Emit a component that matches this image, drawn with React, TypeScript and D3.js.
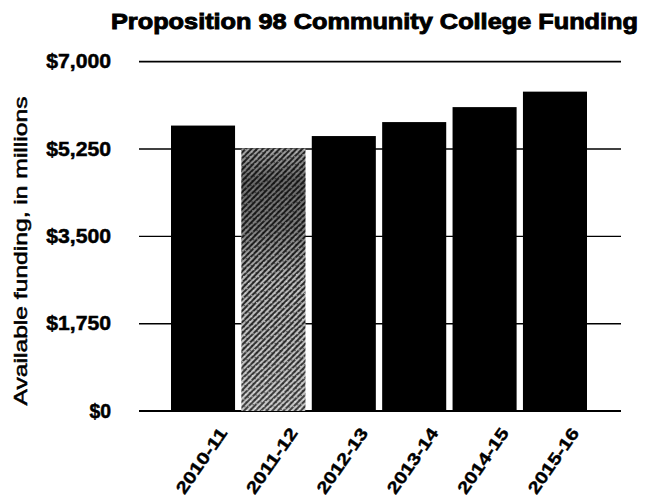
import React from "react";
import * as d3 from "d3";

// Proposition 98 community college funding, in millions of dollars
const years = ["2010-11", "2011-12", "2012-13", "2013-14", "2014-15", "2015-16"];
const funding = [5720, 5260, 5510, 5790, 6090, 6400];
const yTicks = [0, 1750, 3500, 5250, 7000];
const hatchedYear = "2011-12";

const W = 650;
const H = 502;
const FONT = "'Liberation Sans', Arial, Helvetica, sans-serif";

export default function App() {
  const y = d3.scaleLinear().domain([0, 7000]).range([411, 61.7]);
  const x = d3
    .scaleBand<string>()
    .domain(years)
    .range([171, 587])
    .paddingInner(0.09)
    .paddingOuter(0);

  const gridX0 = 139;
  const gridX1 = 621;
  const fmt = (v: number) => "$" + d3.format(",")(v);

  return (
    <svg
      width={W}
      height={H}
      viewBox={`0 0 ${W} ${H}`}
      style={{ position: "absolute", left: 0, top: 0, background: "#fff" }}
    >
      <defs>
        <pattern
          id="hatch"
          width="4"
          height="4"
          patternUnits="userSpaceOnUse"
          patternTransform="rotate(-45)"
        >
          <rect width="4" height="4" fill="#4a4a4a" />
          <line x1="0" y1="1" x2="4" y2="1" stroke="#f4f4f4" strokeWidth="1.4" />
          <line x1="0" y1="3" x2="4" y2="3" stroke="#000" strokeWidth="0.8" />
        </pattern>
        <pattern
          id="speckle"
          width="7"
          height="5"
          patternUnits="userSpaceOnUse"
          patternTransform="rotate(20)"
        >
          <rect x="1" y="1" width="1.5" height="1.2" fill="#fff" opacity="0.7" />
          <rect x="4.5" y="3" width="1.2" height="1.2" fill="#000" opacity="0.8" />
        </pattern>
        <linearGradient id="shade" x1="0" y1="0" x2="0" y2="1">
          <stop offset="0%" stopColor="#000" stopOpacity="0.15" />
          <stop offset="12%" stopColor="#000" stopOpacity="0.45" />
          <stop offset="30%" stopColor="#000" stopOpacity="0.35" />
          <stop offset="50%" stopColor="#000" stopOpacity="0.05" />
          <stop offset="100%" stopColor="#fff" stopOpacity="0.1" />
        </linearGradient>
      </defs>

      {/* title */}
      <text
        x={111}
        y={28.5}
        fontFamily={FONT}
        fontWeight="bold"
        fontSize={21.5}
        textLength={527}
        lengthAdjust="spacingAndGlyphs"
        fill="#000"
        stroke="#000"
        strokeWidth={0.9}
      >
        Proposition 98 Community College Funding
      </text>

      {/* y-axis title */}
      <text
        transform={`translate(27, 251) rotate(-90)`}
        textAnchor="middle"
        fontFamily={FONT}
        fontSize={18}
        textLength={309}
        lengthAdjust="spacingAndGlyphs"
        fill="#000"
        stroke="#000"
        strokeWidth={0.5}
      >
        Available funding, in millions
      </text>

      {/* gridlines and tick labels */}
      {yTicks.map((t) => (
        <g key={t}>
          <line
            x1={gridX0}
            x2={gridX1}
            y1={y(t)}
            y2={y(t)}
            stroke="#000"
            strokeWidth={t === 0 ? 2 : t === 7000 ? 1.8 : 1.4}
          />
          <text
            x={111}
            y={y(t) + 1.5}
            textAnchor="end"
            dominantBaseline="middle"
            fontFamily={FONT}
            fontWeight="bold"
            fontSize={20}
            textLength={fmt(t).length * 10.8}
            lengthAdjust="spacingAndGlyphs"
            fill="#000"
            stroke="#000"
            strokeWidth={0.5}
          >
            {fmt(t)}
          </text>
        </g>
      ))}

      {/* bars */}
      {years.map((yr, i) => {
        const bx = x(yr) as number;
        const top = y(funding[i]);
        const h = y(0) - top;
        if (yr === hatchedYear) {
          return (
            <g key={yr}>
              <rect x={bx} y={top} width={x.bandwidth()} height={h} fill="url(#hatch)" />
              <rect x={bx} y={top} width={x.bandwidth()} height={h} fill="url(#speckle)" />
              <rect x={bx} y={top} width={x.bandwidth()} height={h} fill="url(#shade)" />
            </g>
          );
        }
        return (
          <rect key={yr} x={bx} y={top} width={x.bandwidth()} height={h} fill="#000" />
        );
      })}

      {/* category labels */}
      {years.map((yr) => {
        const cx = (x(yr) as number) + x.bandwidth() / 2;
        return (
          <text
            key={yr}
            transform={`translate(${cx + 25}, 433) rotate(-55)`}
            textAnchor="end"
            fontFamily={FONT}
            fontWeight="bold"
            fontSize={17}
            textLength={76}
            lengthAdjust="spacingAndGlyphs"
            fill="#000"
            stroke="#000"
            strokeWidth={0.4}
          >
            {yr}
          </text>
        );
      })}
    </svg>
  );
}
